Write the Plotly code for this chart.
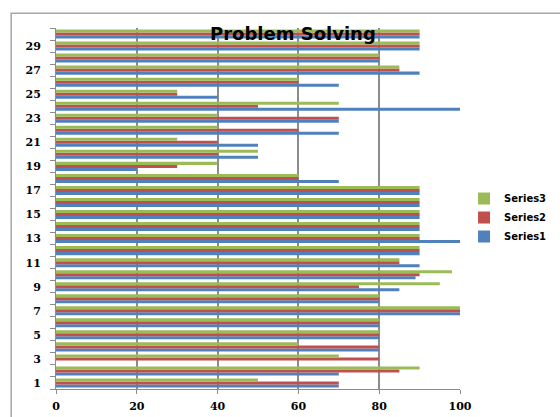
import plotly.graph_objects as go

categories = list(range(1, 31))
series1 = [70, 70, 0, 80, 80, 80, 100, 80, 85, 89, 90, 90, 100, 90, 90, 90, 90, 70, 20, 50,
           50, 70, 70, 100, 40, 70, 90, 80, 90, 90]
series2 = [70, 85, 80, 80, 80, 80, 100, 80, 75, 90, 85, 90, 90, 90, 90, 90, 90, 60, 30, 40,
           40, 60, 70, 50, 30, 60, 85, 80, 90, 90]
series3 = [50, 90, 70, 60, 80, 80, 100, 80, 95, 98, 85, 90, 90, 90, 90, 90, 90, 60, 40, 50,
           30, 40, 40, 70, 30, 60, 85, 80, 90, 90]
series_names = ["Series1", "Series2", "Series3"]
colors = ["#4F81BD", "#C0504D", "#9BBB59"]
x_ticks = [0, 20, 40, 60, 80, 100]
y_ticks = list(range(1, 30, 2))

fig = go.Figure()
for name, vals, col in zip(series_names, [series1, series2, series3], colors):
    fig.add_trace(go.Bar(y=categories, x=vals, name=name, orientation="h",
                         marker=dict(color=col, line=dict(width=0))))

tick_font = dict(family="DejaVu Serif", size=11, color="#000000", weight="bold")

fig.update_layout(
    width=560, height=417,
    margin=dict(l=56, r=100, t=28, b=28, autoexpand=False),
    paper_bgcolor="white", plot_bgcolor="white",
    barmode="group", bargap=0.25, bargroupgap=0,
    showlegend=True,
    legend=dict(x=1.01, y=0.475, xanchor="left", yanchor="middle",
                traceorder="reversed", itemwidth=30, tracegroupgap=0,
                font=dict(family="DejaVu Sans", size=10, color="#000000", weight="bold"),
                bgcolor="rgba(0,0,0,0)"),
    xaxis=dict(range=[0, 100], tickvals=x_ticks, showgrid=True, gridcolor="#8c8c8c",
               gridwidth=1.5, zeroline=False, showline=True, linecolor="#8c8c8c",
               linewidth=1, ticks="outside", ticklen=4, tickcolor="#8c8c8c",
               tickfont=tick_font, ticklabelstandoff=3),
    yaxis=dict(range=[0.5, 30.5], tickvals=y_ticks, showgrid=False, zeroline=False,
               showline=True, linecolor="#8c8c8c", linewidth=1, ticks="",
               tickfont=tick_font, ticklabelstandoff=12,
               minor=dict(tick0=0.5, dtick=1, ticks="outside", ticklen=5,
                          tickcolor="#8c8c8c", showgrid=False)),
)

# chart frame
fig.add_shape(type="rect", xref="paper", yref="paper", x0=-0.111, x1=1.6, y0=-0.3, y1=1.041,
              line=dict(color="#a6a6a6", width=1.5), layer="below")

fig.add_annotation(text="Problem Solving", xref="paper", yref="paper", x=0.587, y=0.984,
                   showarrow=False, xanchor="center", yanchor="middle",
                   font=dict(family="DejaVu Sans", size=18, color="#000000", weight="bold"))

fig.write_html("out.html")
